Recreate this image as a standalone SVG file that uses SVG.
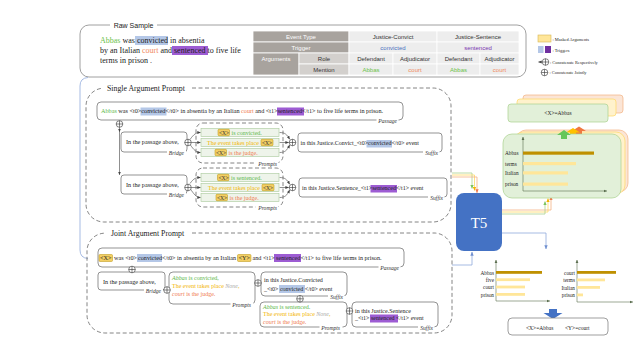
<svg xmlns="http://www.w3.org/2000/svg" width="638" height="362" viewBox="0 0 638 362">
<defs>
<style>
text{font-family:"Liberation Serif","Times New Roman",serif;fill:#222}
.s{font-family:"Liberation Sans",Arial,sans-serif}
.f6{font-size:6.2px}
.f5{font-size:6px}
.lbl{font-style:italic;font-size:5.6px;text-anchor:end;fill:#333}
.box{fill:#fff;stroke:#666;stroke-width:0.7}
.dash{fill:none;stroke:#666;stroke-width:0.8;stroke-dasharray:4 2.5}
.pb{fill:#eef4ea;stroke:#a8c99a;stroke-width:0.6}
.mx{fill:#f3cf63;stroke:#b8900a;stroke-width:0.5}
.mxt{font-size:5.6px;fill:#333}
.hb{fill:#b4c7e7}
.hp{fill:#9d5cd3}
.gr{fill:#5cb84a}
.yl{fill:#f2b400}
.or{fill:#ef7b4f}
.gy{fill:#aaa;font-style:italic}
.it{font-style:italic}
.ln{fill:none;stroke:#444;stroke-width:0.6}
.cut{fill:#fff}
.ax{fill:none;stroke:#5b6e4f;stroke-width:0.6}
.tbd{fill:#a8a39e;stroke:#fff;stroke-width:0.8}
.tbm{fill:#d3d0cd;stroke:#fff;stroke-width:0.8}
.tbl{fill:#ededed;stroke:#fff;stroke-width:0.8}
.tt{font-family:"Liberation Sans",Arial,sans-serif;font-size:6px;text-anchor:middle;fill:#333}
.w{fill:#fff}
.cl{font-size:5.3px}
.lg{font-size:4.4px}
.bd{fill:#bf9000}
.bl{fill:#ffe699}
</style>
<g id="cp"><circle r="3.3" fill="#fff" stroke="#333" stroke-width="0.6"/><path d="M-3.3 0H3.3M0-3.3V3.3" stroke="#333" stroke-width="0.6"/></g>
<marker id="a" viewBox="0 0 6 6" refX="5.5" refY="3" markerWidth="3.5" markerHeight="3.5" markerUnits="userSpaceOnUse" orient="auto"><path d="M0 0.5L6 3L0 5.5z" fill="#444"/></marker>
<marker id="ag" viewBox="0 0 6 6" refX="5.5" refY="3" markerWidth="4" markerHeight="4" markerUnits="userSpaceOnUse" orient="auto"><path d="M0 0.5L6 3L0 5.5z" fill="#7cc45c"/></marker>
<marker id="ay" viewBox="0 0 6 6" refX="5.5" refY="3" markerWidth="4" markerHeight="4" markerUnits="userSpaceOnUse" orient="auto"><path d="M0 0.5L6 3L0 5.5z" fill="#f2b400"/></marker>
<marker id="ao" viewBox="0 0 6 6" refX="5.5" refY="3" markerWidth="4" markerHeight="4" markerUnits="userSpaceOnUse" orient="auto"><path d="M0 0.5L6 3L0 5.5z" fill="#ef7b4f"/></marker>
<marker id="ab" viewBox="0 0 6 6" refX="5.5" refY="3" markerWidth="4" markerHeight="4" markerUnits="userSpaceOnUse" orient="auto"><path d="M0 0.5L6 3L0 5.5z" fill="#6f8fcf"/></marker>
<marker id="ax" viewBox="0 0 6 6" refX="5.5" refY="3" markerWidth="3.5" markerHeight="3.5" markerUnits="userSpaceOnUse" orient="auto"><path d="M0 0.5L6 3L0 5.5z" fill="#5b6e4f"/></marker>
</defs>
<rect width="638" height="362" fill="#fff"/>

<!-- Raw sample -->
<g id="raw-sample">
<rect x="80" y="25" width="446" height="52" rx="9" fill="#fff" stroke="#888" stroke-width="0.8"/>
<rect class="cut" x="110" y="22" width="47" height="6"/>
<text class="s" x="133.5" y="27.5" font-size="7" text-anchor="middle">Raw Sample</text>
<rect class="hb" x="135" y="36" width="33" height="9"/>
<rect class="hp" x="172" y="46" width="36" height="9"/>
<text x="100" y="42.5" font-size="8"><tspan fill="#6cc24a">Abbas</tspan> was convicted in absentia</text>
<text x="100" y="52.5" font-size="8">by an Italian <tspan fill="#f08a5d">court</tspan> and sentenced to five life</text>
<text x="100" y="62.5" font-size="8">terms in prison .</text>
</g>

<g id="table">
<rect class="tbd" x="253" y="31" width="96" height="11"/>
<rect class="tbl" x="349" y="31" width="88" height="11"/>
<rect class="tbl" x="437" y="31" width="82" height="11"/>
<rect class="tbd" x="253" y="42" width="96" height="11"/>
<rect class="tbl" x="349" y="42" width="88" height="11"/>
<rect class="tbl" x="437" y="42" width="82" height="11"/>
<rect class="tbd" x="253" y="53" width="46" height="22"/>
<rect class="tbm" x="299" y="53" width="50" height="11"/>
<rect class="tbm" x="299" y="64" width="50" height="11"/>
<rect class="tbl" x="349" y="53" width="44" height="11"/>
<rect class="tbl" x="393" y="53" width="44" height="11"/>
<rect class="tbl" x="437" y="53" width="43" height="11"/>
<rect class="tbl" x="480" y="53" width="39" height="11"/>
<rect class="tbl" x="349" y="64" width="44" height="11"/>
<rect class="tbl" x="393" y="64" width="44" height="11"/>
<rect class="tbl" x="437" y="64" width="43" height="11"/>
<rect class="tbl" x="480" y="64" width="39" height="11"/>
<text class="tt" x="301" y="38.8" fill="#fff" style="fill:#fff">Event Type</text>
<text class="tt" x="393" y="38.8">Justice-Convict</text>
<text class="tt" x="478" y="38.8">Justice-Sentence</text>
<text class="tt" x="301" y="49.8" style="fill:#fff">Trigger</text>
<text class="tt" x="393" y="49.8" style="fill:#4a72c0">convicted</text>
<text class="tt" x="478" y="49.8" style="fill:#7a35b0">sentenced</text>
<text class="tt" x="276" y="60.8" style="fill:#fff">Arguments</text>
<text class="tt" x="324" y="60.8">Role</text>
<text class="tt" x="371" y="60.8">Defendant</text>
<text class="tt" x="415" y="60.8">Adjudicator</text>
<text class="tt" x="458.5" y="60.8">Defendant</text>
<text class="tt" x="499.5" y="60.8">Adjudicator</text>
<text class="tt" x="324" y="71.6">Mention</text>
<text class="tt" x="371" y="71.6" style="fill:#6cc24a">Abbas</text>
<text class="tt" x="415" y="71.6" style="fill:#f08a5d">court</text>
<text class="tt" x="458.5" y="71.6" style="fill:#6cc24a">Abbas</text>
<text class="tt" x="499.5" y="71.6" style="fill:#f08a5d">court</text>
</g>

<g id="legend">
<rect x="538" y="35" width="13" height="7" fill="#ffe699" stroke="#d6b656" stroke-width="0.6"/>
<text class="lg" x="552.5" y="40.5">: Masked Arguments</text>
<rect x="538" y="46" width="5.5" height="7" fill="#b4c7e7"/>
<rect x="545" y="46" width="6" height="7" fill="#7030a0"/>
<text class="lg" x="552.5" y="51.5">: Triggers</text>
<use href="#cp" x="545.5" y="62"/>
<path class="ln" d="M542 62H538.5" marker-end="url(#a)"/>
<text class="lg" x="550" y="63.5">: Concatenate Respectively</text>
<use href="#cp" x="544.5" y="72.5"/>
<text class="lg" x="549.5" y="74">: Concatenate Jointly</text>
</g>

<!-- link line on the left -->
<g id="connectors">
<path d="M88 77.5Q80 78 80 86V250Q80 258 88 258.5" fill="none" stroke="#8faadc" stroke-width="0.8"/>
<!-- single argument connectors -->
<path class="ln" d="M119.5 127.3V131.8" marker-end="url(#a)"/>
<path class="ln" d="M119.5 131.5V174.8" marker-end="url(#a)"/>
<path class="ln" d="M190 139.5C194 134 196 132.5 200.5 132.5" marker-end="url(#a)"/>
<path class="ln" d="M191.3 142.5H200.5" marker-end="url(#a)"/>
<path class="ln" d="M190 144.5C194 150 196 152.5 200.5 152.5" marker-end="url(#a)"/>
<path class="ln" d="M279.5 132.5C285 132.5 287 134.5 289.6 139.2" marker-end="url(#a)"/>
<path class="ln" d="M279.5 142.5H288.6" marker-end="url(#a)"/>
<path class="ln" d="M279.5 152.5C285 152.5 287 150.5 289.6 145" marker-end="url(#a)"/>
<path class="ln" d="M190 183.5C194 178 196 177.5 200.5 177.5" marker-end="url(#a)"/>
<path class="ln" d="M191.3 187.5H200.5" marker-end="url(#a)"/>
<path class="ln" d="M190 188.5C194 194 196 197.5 200.5 197.5" marker-end="url(#a)"/>
<path class="ln" d="M279.5 177.5C285 177.5 287 179.5 289.6 184.2" marker-end="url(#a)"/>
<path class="ln" d="M279.5 187.5H288.6" marker-end="url(#a)"/>
<path class="ln" d="M279.5 197.5C285 197.5 287 195.5 289.6 190" marker-end="url(#a)"/>
<!-- into T5 -->
<path d="M452 173H472V188.5" fill="none" stroke="#a9d18e" stroke-width="0.8" marker-end="url(#ag)"/>
<path d="M452 175H474.5V190.5" fill="none" stroke="#ffd966" stroke-width="0.8" marker-end="url(#ay)"/>
<path d="M452 177H477V192.8" fill="none" stroke="#f4b183" stroke-width="0.8" marker-end="url(#ao)"/>
<path d="M452 265H472V252" fill="none" stroke="#8faadc" stroke-width="0.8" marker-end="url(#ab)"/>
<!-- out of T5 -->
<path d="M502 210H551V196.5" fill="none" stroke="#f4b183" stroke-width="0.8" marker-end="url(#ao)"/>
<path d="M502 212H548V198.5" fill="none" stroke="#ffd966" stroke-width="0.8" marker-end="url(#ay)"/>
<path d="M502 214H545V201.5" fill="none" stroke="#a9d18e" stroke-width="0.8" marker-end="url(#ag)"/>
<path d="M502 233H546V249" fill="none" stroke="#8faadc" stroke-width="0.8" marker-end="url(#ab)"/>
</g>

<!-- Single argument prompt -->
<g id="single-argument-prompt">
<path class="dash" d="M192 88H433A18 18 0 0 1 451 106V204A18 18 0 0 1 433 222H104A18 18 0 0 1 86 204V106A18 18 0 0 1 103 88.2"/>
<text x="107" y="90.5" font-size="7.8">Single Argument Prompt</text>
</g>

<g id="single-passage">
<rect class="box" x="97" y="102" width="306" height="18" rx="4"/>
<rect class="hb" x="140.5" y="107.5" width="26" height="8"/>
<rect class="hp" x="277" y="107.5" width="27" height="8"/>
<text class="f6" x="101" y="113.3"><tspan class="gr">Abbas</tspan> was &lt;t0&gt;convicted&lt;/t0&gt; in absentia by an Italian <tspan class="or">court</tspan> and &lt;t1&gt;sentenced&lt;/t1&gt; to five life terms in prison.</text>
<rect class="cut" x="376.5" y="118.6" width="22" height="3"/>
<text class="lbl" x="397" y="122.5">Passage</text>
</g>

<g id="single-bridge-1">
<rect class="box" x="121" y="132" width="66" height="20" rx="3"/>
<text class="f6" x="126" y="144">In the passage above,</text>
<rect class="cut" x="167" y="150.6" width="19" height="3"/>
<text class="lbl" x="184" y="154.5">Bridge</text>
</g>

<g id="single-prompts-1">
<rect class="dash" x="196" y="123" width="87" height="40" rx="7"/>
<rect class="pb" x="201" y="128.5" width="78" height="8"/>
<rect class="pb" x="201" y="138.5" width="78" height="8"/>
<rect class="pb" x="201" y="148.5" width="78" height="8"/>
<rect class="mx" x="218" y="129.3" width="11.5" height="6.4" rx="1"/>
<text class="mxt" x="218.9" y="134.6">&lt;X&gt;</text>
<text class="f5 gr" x="231.5" y="134.7">is convicted.</text>
<text class="f5 yl" x="207" y="144.7">The event takes place</text>
<rect class="mx" x="261" y="139.3" width="12" height="6.4" rx="1"/>
<text class="mxt" x="261.9" y="144.6">&lt;X&gt;</text>
<rect class="mx" x="215" y="149.3" width="11.5" height="6.4" rx="1"/>
<text class="mxt" x="215.9" y="154.6">&lt;X&gt;</text>
<text class="f5 or" x="228.5" y="154.7">is the judge.</text>
<rect class="cut" x="255.5" y="161.6" width="23" height="3"/>
<text class="lbl" x="277" y="165.5">Prompts</text>
</g>

<g id="single-suffix-1">
<rect class="box" x="298" y="133" width="144" height="19" rx="3"/>
<rect class="hb" x="366.5" y="140" width="25.5" height="7.5"/>
<text class="f5" x="300.5" y="145.3">in this Justice.Convict_&lt;t0&gt;convicted&lt;/t0&gt; event</text>
<rect class="cut" x="423" y="150.6" width="16.5" height="3"/>
<text class="lbl" x="438" y="154.5">Suffix</text>
</g>

<g id="single-bridge-2">
<rect class="box" x="121" y="175" width="66" height="19" rx="3"/>
<text class="f6" x="126" y="187">In the passage above,</text>
<rect class="cut" x="167" y="192.6" width="19" height="3"/>
<text class="lbl" x="184" y="196.5">Bridge</text>
</g>

<g id="single-prompts-2">
<rect class="dash" x="196" y="168" width="87" height="39" rx="7"/>
<rect class="pb" x="201" y="173.5" width="78" height="8"/>
<rect class="pb" x="201" y="183.5" width="78" height="8"/>
<rect class="pb" x="201" y="193.5" width="78" height="8"/>
<rect class="mx" x="217.5" y="174.3" width="11.5" height="6.4" rx="1"/>
<text class="mxt" x="218.4" y="179.6">&lt;X&gt;</text>
<text class="f5 gr" x="231" y="179.7">is sentenced.</text>
<text class="f5 yl" x="208" y="189.7">The event takes place</text>
<rect class="mx" x="262" y="184.3" width="12" height="6.4" rx="1"/>
<text class="mxt" x="262.9" y="189.6">&lt;X&gt;</text>
<rect class="mx" x="216" y="194.3" width="11.5" height="6.4" rx="1"/>
<text class="mxt" x="216.9" y="199.6">&lt;X&gt;</text>
<text class="f5 or" x="229.5" y="199.7">is the judge.</text>
<rect class="cut" x="255.5" y="205.6" width="23" height="3"/>
<text class="lbl" x="277" y="209.5">Prompts</text>
</g>

<g id="single-suffix-2">
<rect class="box" x="299" y="178" width="148" height="19" rx="3"/>
<rect class="hp" x="370.5" y="185" width="26.5" height="7.5"/>
<text class="f5" x="302" y="190.3">in this Justice.Sentence_&lt;t1&gt;sentenced&lt;/t1&gt; event</text>
<rect class="cut" x="428" y="195.6" width="16.5" height="3"/>
<text class="lbl" x="443" y="199.5">Suffix</text>
</g>

<!-- Joint argument prompt -->
<g id="joint-argument-prompt">
<path class="dash" d="M192 233H434A18 18 0 0 1 452 251V315A18 18 0 0 1 434 333H105A18 18 0 0 1 87 315V251A18 18 0 0 1 104 233.2"/>
<text x="111" y="235.5" font-size="7.8">Joint Argument Prompt</text>
</g>

<g id="joint-passage">
<rect class="box" x="98" y="248" width="306" height="19" rx="4"/>
<rect class="mx" x="99" y="254.5" width="13.5" height="7" rx="1"/>
<rect class="hb" x="137" y="254" width="25" height="8"/>
<rect class="mx" x="237.5" y="254.5" width="13.5" height="7" rx="1"/>
<rect class="hp" x="274" y="254" width="27" height="8"/>
<text class="f6" x="100" y="260.3">&lt;X&gt;</text>
<text class="f6" x="114" y="260.3">was &lt;t0&gt;</text>
<text class="f6" x="138" y="260.3">convicted</text>
<text class="f6" x="162" y="260.3">&lt;/t0&gt; in absentia by an Italian</text>
<text class="f6" x="238.5" y="260.3">&lt;Y&gt;</text>
<text class="f6" x="252.5" y="260.3">and &lt;t1&gt;</text>
<text class="f6" x="276" y="260.3">sentenced</text>
<text class="f6" x="300.5" y="260.3">&lt;/t1&gt; to five life terms in prison.</text>
<rect class="cut" x="378.5" y="265.6" width="22" height="3"/>
<text class="lbl" x="399" y="269.5">Passage</text>
</g>

<g id="joint-bridge">
<rect class="box" x="98" y="272" width="67" height="18" rx="3"/>
<text class="f6" x="103" y="284">In the passage above,</text>
<rect class="cut" x="144" y="288.6" width="19" height="3"/>
<text class="lbl" x="161" y="292.5">Bridge</text>
</g>

<g id="joint-prompts-1">
<rect class="box" x="169" y="272" width="86" height="32" rx="4"/>
<text class="f5 gr" x="172" y="280"><tspan class="it">Abbas</tspan> is convicted,</text>
<text class="f5 yl" x="172" y="288">The event takes place <tspan class="gy">None</tspan>,</text>
<text class="f5 or" x="172" y="296"><tspan class="it">court</tspan> is the judge.</text>
<rect class="cut" x="230.5" y="302.6" width="23" height="3"/>
<text class="lbl" x="251" y="306.5">Prompts</text>
</g>

<g id="joint-suffix-1">
<rect class="box" x="261" y="272" width="86" height="24" rx="4"/>
<text class="f5" x="264" y="281.5">in this Justice.Convicted</text>
<rect class="hb" x="279" y="285" width="26" height="8"/>
<text class="f5" x="264" y="290.5">_&lt;t0&gt; convicted &lt;/t0&gt; event</text>
<rect class="cut" x="328" y="294.6" width="16.5" height="3"/>
<text class="lbl" x="343" y="298.5">Suffix</text>
</g>

<g id="joint-prompts-2">
<rect class="box" x="260" y="302" width="87" height="25" rx="4"/>
<text class="f5 gr" x="263" y="308.7"><tspan class="it">Abbas</tspan> is sentenced.</text>
<text class="f5 yl" x="263" y="316.3">The event takes place <tspan class="gy">None</tspan>,</text>
<text class="f5 or" x="263" y="323.8"><tspan class="it">court</tspan> is the judge.</text>
<rect class="cut" x="319.5" y="325.6" width="23" height="3"/>
<text class="lbl" x="340" y="329.5">Prompts</text>
</g>

<g id="joint-suffix-2">
<rect class="box" x="352" y="302" width="86" height="25" rx="4"/>
<text class="f5" x="355" y="312.5">in this Justice.Sentence</text>
<rect class="hp" x="370" y="314.5" width="28" height="8"/>
<text class="f5" x="355" y="320.3">_&lt;t1&gt; sentenced &lt;/t1&gt; event</text>
<rect class="cut" x="418" y="325.6" width="16.5" height="3"/>
<text class="lbl" x="433" y="329.5">Suffix</text>
</g>

<g id="concat-ops">
<use href="#cp" x="119.5" y="124"/>
<use href="#cp" x="188" y="142.5"/>
<use href="#cp" x="292.5" y="142.5"/>
<use href="#cp" x="188" y="187.5"/>
<use href="#cp" x="292.5" y="187.5"/>
<use href="#cp" x="132" y="269.5"/>
<use href="#cp" x="167" y="290"/>
<use href="#cp" x="258" y="283"/>
<use href="#cp" x="300" y="298.8"/>
<use href="#cp" x="349.5" y="311"/>
</g>

<g id="t5">
<rect x="456" y="193" width="46" height="58" rx="8" fill="#4472c4"/>
<text x="479" y="228" font-size="15" text-anchor="middle" style="fill:#fff">T5</text>
</g>

<g id="single-output">
<rect x="523" y="95" width="100" height="18" rx="3" fill="#fbe5d6" stroke="#f4b183" stroke-width="0.7"/>
<rect x="517" y="99" width="99" height="17" rx="3" fill="#fff2cc" stroke="#ffd966" stroke-width="0.7"/>
<rect x="508" y="104" width="100" height="18" rx="3" fill="#e2f0d9" stroke="#a9d18e" stroke-width="0.7"/>
<text x="558" y="114.8" font-size="5.5" text-anchor="middle">&lt;X&gt;=Abbas</text>
<rect x="517" y="130" width="111" height="62" rx="9" fill="#fbe5d6" stroke="#f4b183" stroke-width="0.7"/>
<rect x="514" y="132" width="111" height="62" rx="9" fill="#fff2cc" stroke="#ffd966" stroke-width="0.7"/>
<polygon points="576,134 576,131 572,131 579,126.5 586,131 582,131 582,134" fill="#f07840"/>
<polygon points="570,135.5 570,132.5 566,132.5 573,128 580,132.5 576,132.5 576,135.5" fill="#ffc000"/>
<rect x="503" y="134" width="118" height="64" rx="9" fill="#e2f0d9" stroke="#a9d18e" stroke-width="0.7"/>
<polygon points="561,139 561,135 557,135 564,130 571,135 567,135 567,139" fill="#66c65a"/>
<path class="ax" d="M523 191V137" marker-end="url(#ax)"/>
<path class="ax" d="M523 191H607" marker-end="url(#ax)"/>
<rect class="bd" x="523" y="151.5" width="71" height="3.2"/>
<rect class="bl" x="523" y="162" width="53" height="3.2"/>
<rect class="bl" x="523" y="171.3" width="45" height="3.2"/>
<rect class="bl" x="523" y="182.5" width="45" height="3.2"/>
<text class="cl" x="505" y="154.6">Abbas</text>
<text class="cl" x="505" y="165.8">terms</text>
<text class="cl" x="505" y="175">Italian</text>
<text class="cl" x="505" y="186">prison</text>
</g>

<g id="joint-output">
<path class="ax" d="M496 301V260" marker-end="url(#ax)"/>
<path class="ax" d="M496 301H550" marker-end="url(#ax)"/>
<rect class="bd" x="496" y="271" width="46" height="2.8"/>
<rect class="bl" x="496" y="278.3" width="34" height="2.8"/>
<rect class="bl" x="496" y="285.6" width="29" height="2.8"/>
<rect class="bl" x="496" y="293" width="29" height="2.8"/>
<text class="cl" x="494" y="274.5" text-anchor="end">Abbas</text>
<text class="cl" x="494" y="281.8" text-anchor="end">five</text>
<text class="cl" x="494" y="289.1" text-anchor="end">court</text>
<text class="cl" x="494" y="296.5" text-anchor="end">prison</text>
<path class="ax" d="M577 302V260" marker-end="url(#ax)"/>
<path class="ax" d="M577 302H633" marker-end="url(#ax)"/>
<rect class="bd" x="577" y="271" width="39" height="2.8"/>
<rect class="bl" x="577" y="278.5" width="28" height="2.8"/>
<rect class="bl" x="577" y="286" width="23" height="2.8"/>
<rect class="bl" x="577" y="293.5" width="6" height="2.8"/>
<text class="cl" x="575" y="274.5" text-anchor="end">court</text>
<text class="cl" x="575" y="282" text-anchor="end">terms</text>
<text class="cl" x="575" y="289.5" text-anchor="end">Italian</text>
<text class="cl" x="575" y="297" text-anchor="end">prison</text>
<polygon points="549,309 557,309 557,313 562.5,313 553,319 543.5,313 549,313" fill="#4472c4"/>
</g>

<g id="result">
<rect x="508" y="318" width="100" height="17" rx="4" fill="#fff" stroke="#777" stroke-width="0.7"/>
<text x="526" y="329.5" font-size="5.5">&lt;X&gt;=Abbas</text>
<text x="565" y="329.5" font-size="5.5">&lt;Y&gt;=court</text>
</g>
</svg>
